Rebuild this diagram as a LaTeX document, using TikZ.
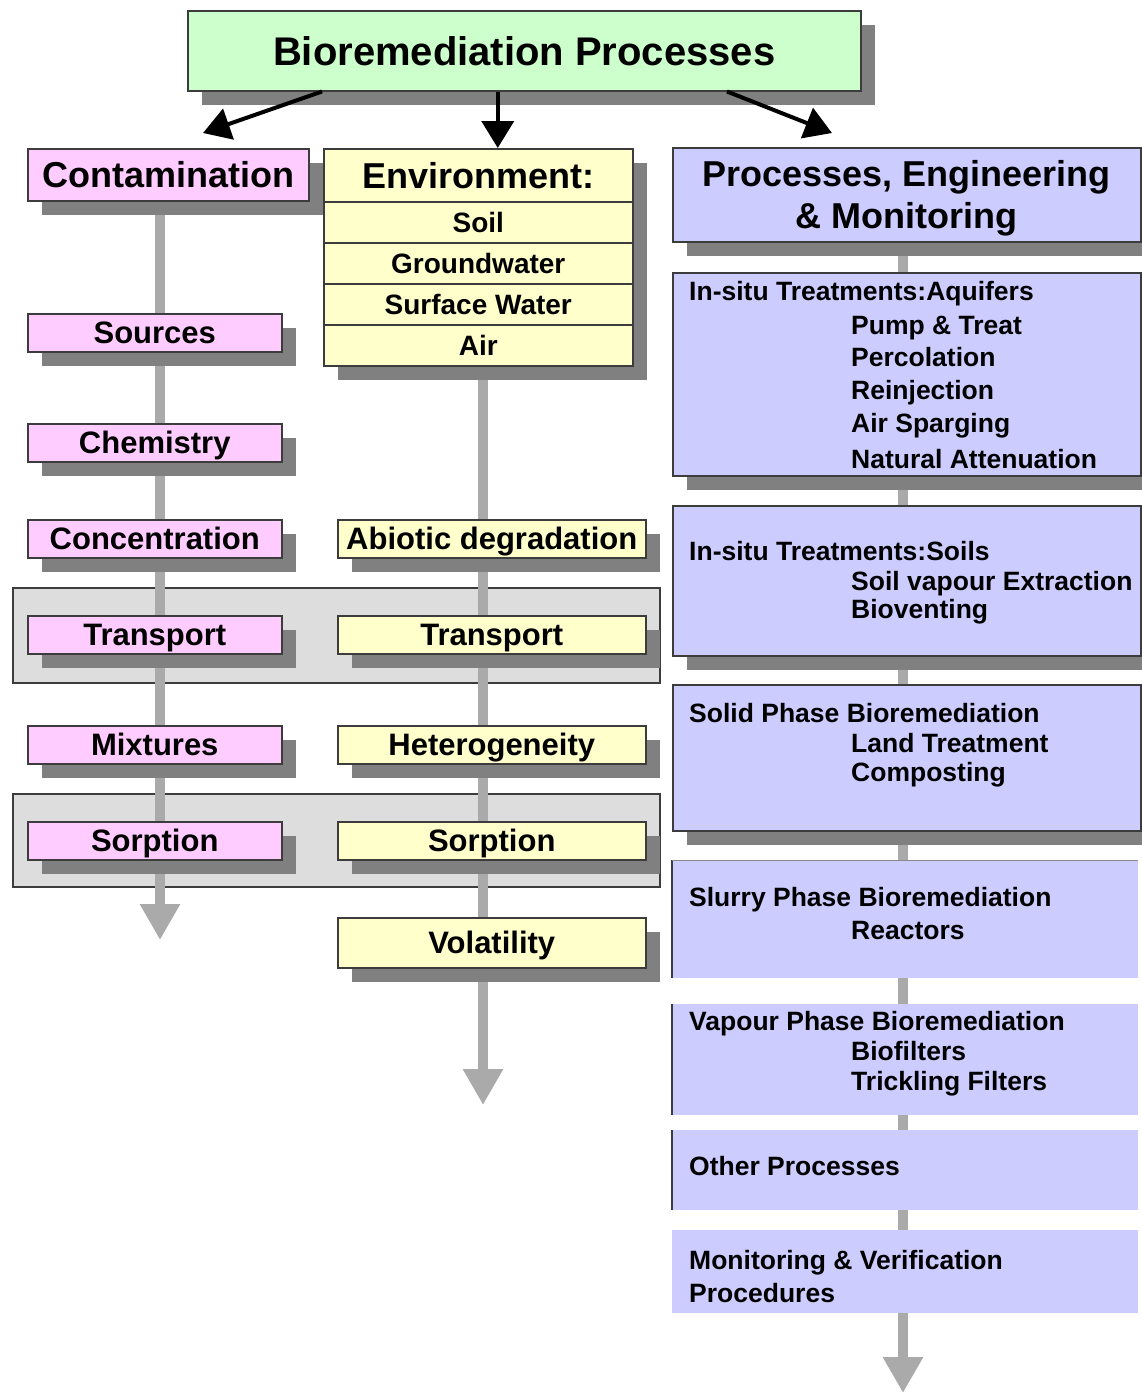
\documentclass[tikz,border=0pt]{standalone}
\usepackage{fontspec}
\setmainfont{Liberation Sans}
\usetikzlibrary{arrows.meta,shadows,backgrounds}
\pgfdeclarelayer{grouplayer}
\pgfdeclarelayer{linelayer}
\pgfsetlayers{grouplayer,linelayer,main}
\definecolor{greenfill}{HTML}{CCFFCC}
\definecolor{pinkfill}{HTML}{FFCCFF}
\definecolor{yellowfill}{HTML}{FFFFCC}
\definecolor{lavfill}{HTML}{CCCCFF}
\definecolor{groupfill}{HTML}{DDDDDD}
\definecolor{shadowgray}{HTML}{808080}
\definecolor{linegray}{HTML}{AAAAAA}
\definecolor{edgegray}{HTML}{3C3C3C}
\newcommand{\fTop}{\fontsize{40}{46}\selectfont\bfseries}
\newcommand{\fHead}{\fontsize{36}{42}\selectfont\bfseries}
\newcommand{\fMid}{\fontsize{31}{36}\selectfont\bfseries}
\newcommand{\fRow}{\fontsize{28}{32}\selectfont\bfseries}
\newcommand{\fRight}{\fontsize{26.5}{30}\selectfont\bfseries}
\tikzset{
  box/.style={draw=edgegray, line width=1.5pt, inner sep=0pt, anchor=north west, text=black},
  shadowed/.style={drop shadow={shadow xshift=14pt, shadow yshift=-14pt, opacity=1, fill=shadowgray}},
  capmid/.style={text height=22.3pt, text depth=0pt},
  pinkbox/.style={box, shadowed, fill=pinkfill, minimum width=254pt, minimum height=38pt, font=\fMid, capmid},
  yellowbox/.style={box, shadowed, fill=yellowfill, minimum width=308pt, minimum height=38pt, font=\fMid, capmid},
  envrow/.style={box, fill=yellowfill, minimum width=309pt, minimum height=41pt, font=\fRow, text height=20.2pt, text depth=0pt},
  headtext/.style={font=\fHead, text height=25.9pt, text depth=0pt},
  lavbox/.style={box, shadowed, fill=lavfill, minimum width=468pt},
  lavplain/.style={inner sep=0pt, anchor=north west, fill=lavfill, minimum width=466pt},
  groupbox/.style={draw=edgegray, line width=1.5pt, fill=groupfill, anchor=north west, inner sep=0pt, minimum width=647pt},
  rtext/.style={anchor=base west, inner sep=0pt, font=\fRight},
  grayflow/.style={draw=linegray, line width=10pt, -{Triangle[length=36pt, width=38pt]}},
  toparrow/.style={draw=black, line width=4pt, -{Triangle[length=27pt, width=32pt]}},
  leftedge/.style={draw=edgegray, line width=2pt}
}
\begin{document}
\begin{tikzpicture}[x=1pt, y=-1pt]
\useasboundingbox (0,0) rectangle (1142,1393);

% top box
\node[box, shadowed, fill=greenfill, minimum width=673pt, minimum height=80pt, font=\fTop, text height=28.8pt, text depth=0pt] (top) at (187,10) {Bioremediation Processes};

% contamination column header
\node[box, shadowed, fill=pinkfill, minimum width=281pt, minimum height=52pt, headtext] (contam) at (27,148) {Contamination};

% environment block
\node[box, shadowed, fill=yellowfill, minimum width=309pt, minimum height=217pt] (env) at (323,148) {};
\node[envrow, minimum height=53pt, headtext] (envhead) at (323,148) {Environment:};
\node[envrow] (soil) at (323,201) {Soil};
\node[envrow] (gw) at (323,242) {Groundwater};
\node[envrow] (sw) at (323,283) {Surface Water};
\node[envrow] (air) at (323,324) {Air};

% processes header
\node[lavbox, minimum height=94pt] (proc) at (672,147) {};
\node[font=\fHead, align=center, inner sep=0pt] (proct) at ([yshift=-4pt]proc.center) {Processes, Engineering\\\& Monitoring};

% groups
\begin{pgfonlayer}{grouplayer}
\node[groupbox, minimum height=95pt] (grpT) at (12,587) {};
\node[groupbox, minimum height=93pt] (grpS) at (12,793) {};
\end{pgfonlayer}

% pink column
\node[pinkbox] (sources) at (27,313) {Sources};
\node[pinkbox] (chem) at (27,423) {Chemistry};
\node[pinkbox] (conc) at (27,519) {Concentration};
\node[pinkbox] (ctrans) at (27,615) {Transport};
\node[pinkbox] (mix) at (27,725) {Mixtures};
\node[pinkbox] (csorp) at (27,821) {Sorption};

% yellow column
\node[yellowbox] (abiotic) at (337,519) {Abiotic degradation};
\node[yellowbox] (etrans) at (337,615) {Transport};
\node[yellowbox] (hetero) at (337,725) {Heterogeneity};
\node[yellowbox] (esorp) at (337,821) {Sorption};
\node[yellowbox, minimum height=50pt] (volat) at (337,917) {Volatility};

% right column boxes
\node[lavbox, minimum height=203pt] (aq) at (672,272) {};
\node[lavbox, minimum height=150pt] (soils) at (672,505) {};
\node[lavbox, minimum height=146pt] (solid) at (672,684) {};
\node[lavplain, minimum height=118pt] (slurry) at (672,860) {};
\node[lavplain, minimum height=111pt] (vapour) at (672,1004) {};
\node[lavplain, minimum height=80pt] (other) at (672,1130) {};
\node[lavplain, minimum height=83pt] (monit) at (672,1230) {};
\draw[leftedge] (slurry.north west) -- (slurry.south west);
\draw[draw=edgegray!60, line width=1pt] (slurry.north west) -- (slurry.north east);
\draw[leftedge] (vapour.north west) -- (vapour.south west);
\draw[leftedge] (other.north west) -- (other.south west);

% right column texts
\node[rtext] (aq0) at (689,300) {In-situ Treatments:Aquifers};
\node[rtext] (aq1) at (851,334) {Pump \& Treat};
\node[rtext] (aq2) at (851,366) {Percolation};
\node[rtext] (aq3) at (851,399) {Reinjection};
\node[rtext] (aq4) at (851,432) {Air Sparging};
\node[rtext] (aq5) at (851,468) {Natural Attenuation};
\node[rtext] (so0) at (689,560) {In-situ Treatments:Soils};
\node[rtext] (so1) at (851,590) {Soil vapour Extraction};
\node[rtext] (so2) at (851,618) {Bioventing};
\node[rtext] (sp0) at (689,722) {Solid Phase Bioremediation};
\node[rtext] (sp1) at (851,752) {Land Treatment};
\node[rtext] (sp2) at (851,781) {Composting};
\node[rtext] (sl0) at (689,906) {Slurry Phase Bioremediation};
\node[rtext] (sl1) at (851,939) {Reactors};
\node[rtext] (vp0) at (689,1030) {Vapour Phase Bioremediation};
\node[rtext] (vp1) at (851,1060) {Biofilters};
\node[rtext] (vp2) at (851,1090) {Trickling Filters};
\node[rtext] (ot0) at (689,1175) {Other Processes};
\node[rtext] (mo0) at (689,1269) {Monitoring \& Verification};
\node[rtext] (mo1) at (689,1302) {Procedures};

% grey flow lines
\coordinate (leftend) at (160,940);
\coordinate (midend) at (483,1105);
\coordinate (rightend) at (903,1393);
\begin{pgfonlayer}{linelayer}
\draw[grayflow] (leftend |- contam.south) -- (leftend);
\draw[grayflow] (midend |- env.south) -- (midend);
\draw[grayflow] (rightend |- proc.south) -- (rightend);
\end{pgfonlayer}

% black arrows from top
\draw[toparrow] ([xshift=135pt]top.south west) -- ([xshift=176pt,yshift=15pt]contam.north west);
\draw[toparrow] ([xshift=-26.5pt]top.south) -- ([xshift=19.5pt]envhead.north);
\draw[toparrow] ([xshift=540pt]top.south west) -- ([xshift=160pt,yshift=14pt]proc.north west);
\end{tikzpicture}
\end{document}
